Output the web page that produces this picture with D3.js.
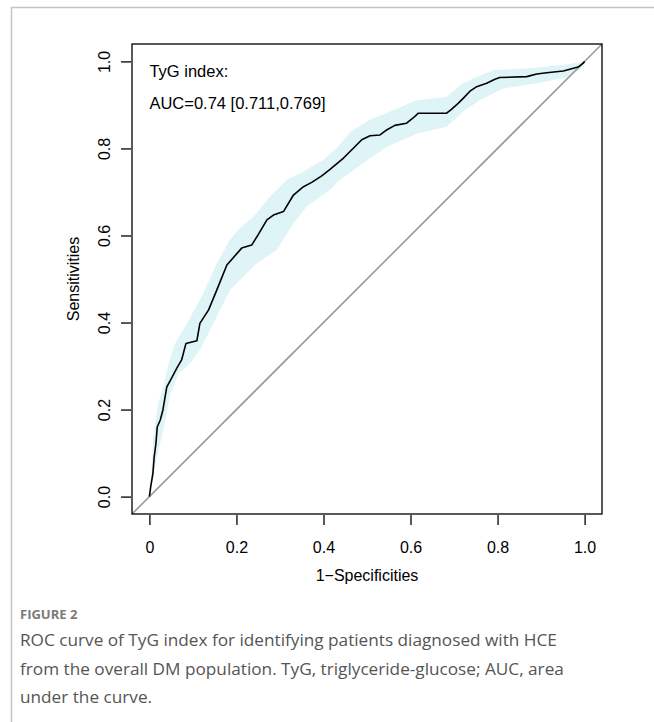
<!DOCTYPE html>
<html lang="en">
    <head>
        <meta charset="utf-8">
        <title>ROC curve</title>
        <script type="text/javascript" src="https://cdn.jsdelivr.net/npm/d3@7"></script>
        <style>
            body { margin: 0; background: #fff; }
        </style>
    </head>
    <body>
        <script type="text/javascript">

        var w = 654;
        var h = 722;

        // ROC curve: [1-specificity, sensitivity]
        var rocPoints = [
            [0, 0], [0.003, 0.023], [0.008, 0.053], [0.011, 0.091], [0.015, 0.122],
            [0.018, 0.160], [0.025, 0.176], [0.031, 0.199], [0.040, 0.252], [0.051, 0.272],
            [0.063, 0.295], [0.074, 0.314], [0.084, 0.352], [0.109, 0.358], [0.116, 0.398],
            [0.136, 0.429], [0.155, 0.475], [0.178, 0.532], [0.212, 0.571], [0.235, 0.578],
            [0.247, 0.597], [0.270, 0.636], [0.285, 0.647], [0.308, 0.655], [0.331, 0.693],
            [0.354, 0.712], [0.373, 0.722], [0.396, 0.737], [0.415, 0.752], [0.446, 0.778],
            [0.468, 0.800], [0.488, 0.820], [0.507, 0.829], [0.530, 0.831], [0.546, 0.843],
            [0.564, 0.853], [0.591, 0.858], [0.606, 0.870], [0.618, 0.881], [0.683, 0.881],
            [0.694, 0.890], [0.710, 0.904], [0.721, 0.915], [0.736, 0.931], [0.752, 0.942],
            [0.775, 0.950], [0.794, 0.959], [0.805, 0.963], [0.867, 0.965], [0.890, 0.971],
            [0.913, 0.974], [0.951, 0.978], [0.966, 0.982], [0.985, 0.987], [0.997, 0.996],
            [1, 1]
        ];

        // confidence band of the sensitivity, upper and lower edges
        var ciUpper = [
            [0, 0], [0.005, 0.061], [0.009, 0.137], [0.020, 0.214], [0.032, 0.252],
            [0.044, 0.306], [0.059, 0.352], [0.086, 0.398], [0.120, 0.459], [0.155, 0.536],
            [0.185, 0.590], [0.208, 0.617], [0.239, 0.643], [0.277, 0.689], [0.316, 0.728],
            [0.354, 0.747], [0.400, 0.774], [0.430, 0.800], [0.461, 0.838], [0.507, 0.866],
            [0.553, 0.885], [0.614, 0.911], [0.683, 0.919], [0.721, 0.950], [0.752, 0.965],
            [0.790, 0.980], [0.874, 0.984], [0.951, 0.992], [0.997, 1.0], [1, 1]
        ];
        var ciLower = [
            [0, 0], [0.009, 0.046], [0.017, 0.091], [0.032, 0.153], [0.048, 0.237],
            [0.067, 0.283], [0.093, 0.306], [0.116, 0.337], [0.143, 0.390], [0.185, 0.475],
            [0.216, 0.505], [0.247, 0.536], [0.293, 0.567], [0.331, 0.628], [0.361, 0.666],
            [0.415, 0.705], [0.438, 0.728], [0.491, 0.766], [0.545, 0.804], [0.614, 0.834],
            [0.683, 0.850], [0.721, 0.885], [0.759, 0.911], [0.813, 0.938], [0.890, 0.950],
            [0.966, 0.965], [0.997, 0.988], [1, 1]
        ];

        var xTicks = [0, 0.2, 0.4, 0.6, 0.8, 1.0];
        var xTickLabels = ["0", "0.2", "0.4", "0.6", "0.8", "1.0"];
        var yTicks = [0, 0.2, 0.4, 0.6, 0.8, 1.0];
        var yTickLabels = ["0.0", "0.2", "0.4", "0.6", "0.8", "1.0"];

        var annotation = ["TyG index:", "AUC=0.74 [0.711,0.769]"];
        var captionTitle = "FIGURE 2";
        var captionLines = [
            "ROC curve of TyG index for identifying patients diagnosed with HCE",
            "from the overall DM population. TyG, triglyceride-glucose; AUC, area",
            "under the curve."
        ];

        var box = {left: 132, top: 44, right: 602, bottom: 514};
        var rFont = "'Liberation Sans', Arial, sans-serif";
        var capFont = "'Open Sans', 'Noto Sans', sans-serif";

        var svg = d3.select("body")
            .append("svg")
            .attr("width", w)
            .attr("height", h);

        svg.append("rect")
           .attr("width", w)
           .attr("height", h)
           .attr("fill", "#fff");

        // outer light frame (top and left)
        svg.append("path")
           .attr("d", "M11.5," + h + "V7.5H" + w)
           .attr("fill", "none")
           .attr("stroke", "#c4c4c4")
           .attr("stroke-width", 1.5);

        var x = d3.scaleLinear().domain([-0.04, 1.04]).range([box.left, box.right]);
        var y = d3.scaleLinear().domain([-0.04, 1.04]).range([box.bottom, box.top]);

        var line = d3.line()
            .x(function(d) { return x(d[0]); })
            .y(function(d) { return y(d[1]); });

        // CI band
        svg.append("path")
           .attr("d", line(ciUpper.concat(ciLower.slice().reverse())) + "Z")
           .attr("fill", "#dff4f6")
           .attr("stroke", "none");

        // chance diagonal across the whole box
        svg.append("path")
           .attr("d", line([x.domain(), y.domain()].map(function(v, i) {
                return [x.domain()[i], y.domain()[i]];
           })))
           .attr("stroke", "#9a9a9a")
           .attr("stroke-width", 1.6)
           .attr("fill", "none");

        svg.append("path")
           .attr("d", line(rocPoints))
           .attr("stroke", "#000")
           .attr("stroke-width", 1.6)
           .attr("stroke-linejoin", "round")
           .attr("fill", "none");

        svg.append("rect")
           .attr("x", box.left)
           .attr("y", box.top)
           .attr("width", box.right - box.left)
           .attr("height", box.bottom - box.top)
           .attr("fill", "none")
           .attr("stroke", "#000")
           .attr("stroke-width", 1.3);

        // x axis
        var xAxis = d3.axisBottom(x)
            .tickValues(xTicks)
            .tickSize(10)
            .tickPadding(17)
            .tickFormat(function(d, i) { return xTickLabels[i]; });

        var gx = svg.append("g")
            .attr("transform", "translate(0," + (box.bottom + 1) + ")")
            .call(xAxis);
        gx.select(".domain").remove();
        gx.selectAll("line").attr("stroke", "#000").attr("stroke-width", 1.3);
        gx.selectAll("text")
          .attr("font-family", rFont)
          .attr("font-size", "16px")
          .attr("fill", "#000");

        // y axis, labels rotated as in R
        var yAxis = d3.axisLeft(y)
            .tickValues(yTicks)
            .tickSize(10)
            .tickFormat(function(d, i) { return yTickLabels[i]; });

        var gy = svg.append("g")
            .attr("transform", "translate(" + (box.left - 1) + ",0)")
            .call(yAxis);
        gy.select(".domain").remove();
        gy.selectAll("line").attr("stroke", "#000").attr("stroke-width", 1.3);
        gy.selectAll("text")
          .attr("x", null)
          .attr("dy", null)
          .attr("text-anchor", "middle")
          .attr("transform", "translate(-21,0) rotate(-90)")
          .attr("font-family", rFont)
          .attr("font-size", "16px")
          .attr("fill", "#000");

        svg.append("text")
           .attr("x", (box.left + box.right) / 2)
           .attr("y", 581)
           .attr("text-anchor", "middle")
           .attr("font-family", rFont)
           .attr("font-size", "16px")
           .text("1\u2212Specificities");

        svg.append("text")
           .attr("transform", "translate(79," + ((box.top + box.bottom) / 2) + ") rotate(-90)")
           .attr("text-anchor", "middle")
           .attr("font-family", rFont)
           .attr("font-size", "16px")
           .text("Sensitivities");

        svg.selectAll("text.note")
           .data(annotation)
           .enter()
           .append("text")
           .attr("class", "note")
           .attr("x", x(0))
           .attr("y", function(d, i) { return 77 + i * 32; })
           .attr("font-family", rFont)
           .attr("font-size", "16.5px")
           .text(function(d) { return d; });

        // caption
        svg.append("text")
           .attr("x", 20)
           .attr("y", 619)
           .attr("font-family", capFont)
           .attr("font-weight", "bold")
           .attr("font-size", "13px")
           .attr("fill", "#7a7a7a")
           .text(captionTitle);

        svg.selectAll("text.caption")
           .data(captionLines)
           .enter()
           .append("text")
           .attr("class", "caption")
           .attr("x", 20)
           .attr("y", function(d, i) { return 646 + i * 28.5; })
           .attr("font-family", capFont)
           .attr("font-size", "17.2px")
           .attr("fill", "#555")
           .text(function(d) { return d; });
        </script>
    </body>
</html>
